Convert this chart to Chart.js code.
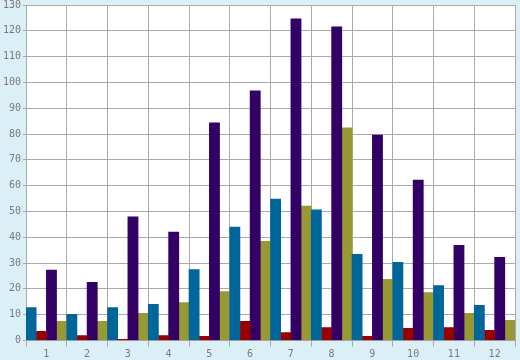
<!DOCTYPE html>
<html>
<head>
<meta charset="utf-8">
<script src="https://cdn.jsdelivr.net/npm/chart.js@4"></script>
<style>
  body { margin: 0; background: #daeff6; }
  canvas { display: block; }
</style>
</head>
<body>
<canvas id="myChart" width="520" height="360"></canvas>
<script>
var labels = ['1', '2', '3', '4', '5', '6', '7', '8', '9', '10', '11', '12'];
var blueValues = [12.8, 10.1, 12.8, 14, 27.5, 43.9, 54.8, 50.6, 33.4, 30.3, 21.3, 13.6];
var redValues = [3.6, 1.9, 0.5, 1.9, 1.6, 7.4, 3.1, 5, 1.6, 4.7, 5, 3.9];
var purpleValues = [27.3, 22.5, 47.9, 42, 84.3, 96.7, 124.6, 121.5, 79.6, 62.2, 36.9, 32.2];
var oliveValues = [7.4, 7.4, 10.5, 14.7, 19, 38.4, 52.1, 82.4, 23.7, 18.6, 10.5, 7.8];

Chart.defaults.font.family = "'DejaVu Sans Mono', monospace";
Chart.defaults.font.size = 10;
Chart.defaults.color = '#7a7a7a';

// white plot area on the light blue page
var plotBackground = {
    id: 'plotBackground',
    beforeDraw: function (chart) {
        var a = chart.chartArea;
        var c = chart.ctx;
        c.save();
        c.fillStyle = '#daeff6';
        c.fillRect(0, 0, chart.width, chart.height);
        c.fillStyle = '#ffffff';
        c.fillRect(a.left, a.top, a.right - a.left, a.bottom - a.top);
        c.restore();
    }
};

var ctx = document.getElementById('myChart').getContext('2d');
var myChart = new Chart(ctx, {
    type: 'bar',
    data: {
        labels: labels,
        datasets: [
            { data: blueValues, backgroundColor: '#006699' },
            { data: redValues, backgroundColor: '#990000' },
            { data: purpleValues, backgroundColor: '#330066' },
            { data: oliveValues, backgroundColor: '#999933' }
        ]
    },
    options: {
        responsive: false,
        animation: false,
        categoryPercentage: 1,
        barPercentage: 1,
        layout: { padding: { top: 5, right: 5, left: 0, bottom: 0 } },
        plugins: {
            legend: { display: false },
            tooltip: { enabled: false }
        },
        scales: {
            x: {
                grid: { color: '#aaaaaa', lineWidth: 1, tickLength: 6, offset: true },
                border: { color: '#aaaaaa' },
                ticks: { padding: 2, maxRotation: 0 },
                afterFit: function (scale) {
                    scale.height = 19.5;
                    scale.paddingLeft = 0;
                    scale.paddingRight = 0;
                }
            },
            y: {
                min: 0,
                max: 130,
                grid: { color: '#aaaaaa', lineWidth: 1, tickLength: 3 },
                border: { color: '#aaaaaa' },
                ticks: { stepSize: 10, padding: 2 },
                afterFit: function (scale) {
                    scale.width = 26;
                    scale.paddingTop = 0;
                    scale.paddingBottom = 0;
                }
            }
        }
    },
    plugins: [plotBackground]
});
</script>
</body>
</html>
